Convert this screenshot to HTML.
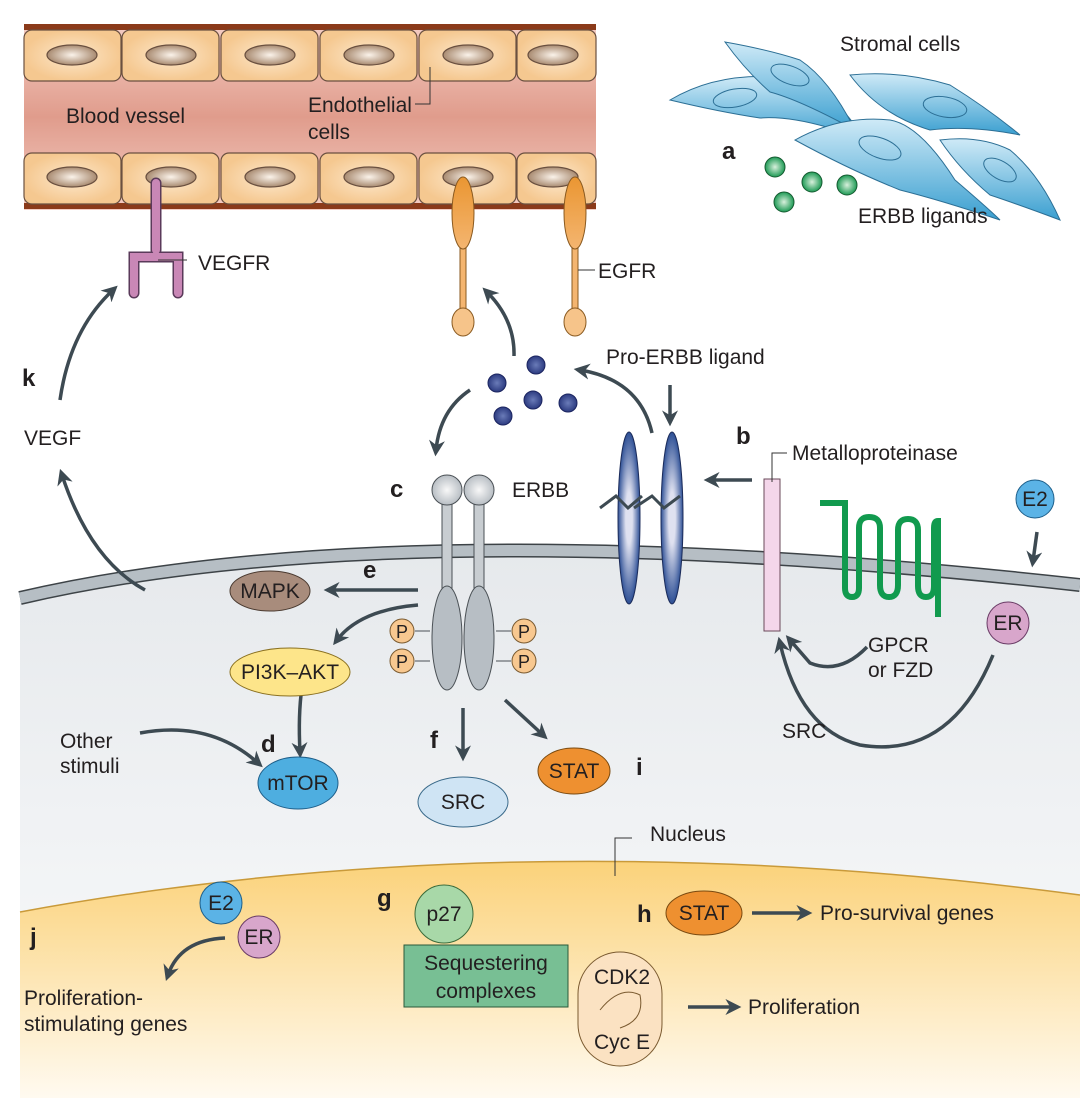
<!DOCTYPE html>
<html><head><meta charset="utf-8"><style>
body{margin:0;background:#fff}
svg text{font-family:"Liberation Sans",sans-serif;fill:#231f20}
.b{font-weight:bold;font-size:24px}
.t{font-size:21px}
</style></head><body>
<svg width="1080" height="1098" viewBox="0 0 1080 1098" xmlns="http://www.w3.org/2000/svg">
<defs>
<linearGradient id="bv" x1="0" y1="0" x2="0" y2="1"><stop offset="0" stop-color="#f4cdc4"/><stop offset="0.5" stop-color="#e09c8c"/><stop offset="1" stop-color="#f4cdc4"/></linearGradient>
<radialGradient id="ec"><stop offset="0" stop-color="#fde8cc"/><stop offset="1" stop-color="#f5c890"/></radialGradient>
<radialGradient id="nu"><stop offset="0" stop-color="#fbf3ea"/><stop offset="1" stop-color="#a88a70"/></radialGradient>
<linearGradient id="cyto" x1="0" y1="0" x2="0" y2="1"><stop offset="0" stop-color="#e6e9ec"/><stop offset="1" stop-color="#fafbfc"/></linearGradient>
<linearGradient id="nuc" x1="0" y1="0" x2="0" y2="1"><stop offset="0" stop-color="#fbd27a"/><stop offset="1" stop-color="#fffaf0"/></linearGradient>
<radialGradient id="sb"><stop offset="0" stop-color="#6a7bb8"/><stop offset="1" stop-color="#2c3b80"/></radialGradient>
<radialGradient id="gb"><stop offset="0" stop-color="#d8f0dc"/><stop offset="1" stop-color="#1e9a55"/></radialGradient>
<linearGradient id="str" x1="0" y1="0" x2="0" y2="1"><stop offset="0" stop-color="#cfeaf7"/><stop offset="1" stop-color="#3a9fd0"/></linearGradient>
<linearGradient id="og" x1="0" y1="0" x2="0" y2="1"><stop offset="0" stop-color="#ea9632"/><stop offset="1" stop-color="#f4b570"/></linearGradient>
<radialGradient id="ball"><stop offset="0" stop-color="#f8f8f8"/><stop offset="1" stop-color="#b8bec4"/></radialGradient>
<radialGradient id="gm"><stop offset="0.3" stop-color="#dfe1f0"/><stop offset="1" stop-color="#2d4f95"/></radialGradient>
<marker id="a" viewBox="0 0 10 10" refX="6" refY="5" markerWidth="16" markerHeight="16" orient="auto" markerUnits="userSpaceOnUse"><path d="M0,0 L10,5 L0,10 L3,5 z" fill="#3d4a52"/></marker>
</defs>

<path d="M20,598 Q400,510 1080,585 L1080,1098 L20,1098 Z" fill="url(#cyto)"/>
<path d="M20,598 Q400,510 1080,585" fill="none" stroke="#3d4347" stroke-width="14"/>
<path d="M20,598 Q400,510 1080,585" fill="none" stroke="#b6bec4" stroke-width="11"/>
<path d="M20,912 Q520,820 1080,895 L1080,1098 L20,1098 Z" fill="url(#nuc)"/>
<path d="M20,912 Q520,820 1080,895" fill="none" stroke="#c99a3a" stroke-width="1.5"/>

<rect x="24" y="24" width="572" height="186" fill="url(#bv)"/>
<rect x="24" y="24" width="572" height="6" fill="#8b3a1a"/>
<rect x="24" y="203" width="572" height="6" fill="#8b3a1a"/>
<g stroke="#6a5040" stroke-width="1.2">
<g fill="url(#ec)">
<rect x="24" y="30" width="97" height="51" rx="8"/><rect x="122" y="30" width="97" height="51" rx="8"/><rect x="221" y="30" width="97" height="51" rx="8"/><rect x="320" y="30" width="97" height="51" rx="8"/><rect x="419" y="30" width="97" height="51" rx="8"/><rect x="517" y="30" width="79" height="51" rx="8"/>
<rect x="24" y="153" width="97" height="51" rx="8"/><rect x="122" y="153" width="97" height="51" rx="8"/><rect x="221" y="153" width="97" height="51" rx="8"/><rect x="320" y="153" width="97" height="51" rx="8"/><rect x="419" y="153" width="97" height="51" rx="8"/><rect x="517" y="153" width="79" height="51" rx="8"/>
</g>
<g fill="url(#nu)">
<ellipse cx="72" cy="55" rx="25" ry="10"/><ellipse cx="171" cy="55" rx="25" ry="10"/><ellipse cx="270" cy="55" rx="25" ry="10"/><ellipse cx="369" cy="55" rx="25" ry="10"/><ellipse cx="468" cy="55" rx="25" ry="10"/><ellipse cx="553" cy="55" rx="25" ry="10"/>
<ellipse cx="72" cy="177" rx="25" ry="10"/><ellipse cx="171" cy="177" rx="25" ry="10"/><ellipse cx="270" cy="177" rx="25" ry="10"/><ellipse cx="369" cy="177" rx="25" ry="10"/><ellipse cx="468" cy="177" rx="25" ry="10"/><ellipse cx="553" cy="177" rx="25" ry="10"/>
</g></g>
<text x="66" y="123" class="t">Blood vessel</text>
<text x="308" y="112" class="t">Endothelial</text>
<text x="308" y="139" class="t">cells</text>
<path d="M415,104 H430 V67" fill="none" stroke="#333" stroke-width="1"/>

<path d="M156,183 V250 M134,293 V257 H178 V293" fill="none" stroke="#5a3a5a" stroke-width="11" stroke-linecap="round"/>
<path d="M156,183 V250 M134,293 V257 H178 V293" fill="none" stroke="#c987b6" stroke-width="8" stroke-linecap="round"/>
<path d="M158,260 H187" stroke="#333" stroke-width="1"/>
<text x="198" y="270" class="t">VEGFR</text>

<g stroke="#8a5a20" stroke-width="1">
<rect x="460" y="230" width="6" height="82" fill="#f4b570"/>
<ellipse cx="463" cy="213" rx="11" ry="36" fill="url(#og)"/>
<ellipse cx="463" cy="322" rx="11" ry="14" fill="#f6c48a"/>
<rect x="572" y="230" width="6" height="82" fill="#f4b570"/>
<ellipse cx="575" cy="213" rx="11" ry="36" fill="url(#og)"/>
<ellipse cx="575" cy="322" rx="11" ry="14" fill="#f6c48a"/>
</g>
<path d="M578,270 H595" stroke="#333" stroke-width="1"/>
<text x="598" y="278" class="t">EGFR</text>

<g stroke="#2c6f95" stroke-width="1" fill="url(#str)">
<path d="M670,100 Q720,70 790,78 Q830,85 865,140 Q800,115 760,118 Q720,112 670,100Z"/>
<path d="M725,42 Q770,50 800,60 Q830,80 855,130 Q800,100 770,92 Q745,70 725,42Z"/>
<path d="M850,75 Q900,70 950,85 Q990,110 1020,135 Q970,125 930,130 Q880,115 850,75Z"/>
<path d="M795,140 Q840,115 890,120 Q920,125 955,180 Q990,210 1000,220 Q940,200 900,190 Q850,170 795,140Z"/>
<path d="M940,140 Q980,135 1010,150 Q1040,175 1060,220 Q1020,205 990,195 Q960,170 940,140Z"/>
</g>
<g fill="none" stroke="#2c6f95" stroke-width="1">
<ellipse cx="735" cy="98" rx="22" ry="9" transform="rotate(-10 735 98)"/>
<ellipse cx="790" cy="75" rx="20" ry="9" transform="rotate(20 790 75)"/>
<ellipse cx="945" cy="107" rx="22" ry="10" transform="rotate(10 945 107)"/>
<ellipse cx="880" cy="148" rx="22" ry="10" transform="rotate(20 880 148)"/>
<ellipse cx="1000" cy="170" rx="18" ry="9" transform="rotate(30 1000 170)"/>
</g>
<text x="840" y="51" class="t">Stromal cells</text>
<text x="722" y="159" class="b">a</text>
<g stroke="#155a30" stroke-width="1" fill="url(#gb)">
<circle cx="775" cy="167" r="10"/><circle cx="812" cy="182" r="10"/><circle cx="847" cy="185" r="10"/><circle cx="784" cy="202" r="10"/>
</g>
<text x="858" y="223" class="t">ERBB ligands</text>

<g stroke="#1c2560" stroke-width="1" fill="url(#sb)">
<circle cx="536" cy="365" r="9"/><circle cx="497" cy="383" r="9"/><circle cx="533" cy="400" r="9"/><circle cx="568" cy="403" r="9"/><circle cx="503" cy="416" r="9"/>
</g>
<text x="606" y="364" class="t">Pro-ERBB ligand</text>

<g fill="none" stroke="#3d4a52" stroke-width="3.5" marker-end="url(#a)">
<path d="M514,356 Q515,320 487,292"/>
<path d="M652,433 Q640,380 580,370"/>
<path d="M670,385 V420"/>
<path d="M470,390 Q440,410 436,450"/>
<path d="M752,480 H710"/>
<path d="M60,400 Q70,330 113,290"/>
<path d="M145,590 Q90,560 62,475"/>
<path d="M418,590 H330"/>
<path d="M418,605 Q360,610 337,640"/>
<path d="M302,687 Q298,715 300,752"/>
<path d="M140,733 Q210,720 258,763"/>
<path d="M463,708 V755"/>
<path d="M505,700 L543,735"/>
<path d="M1037,532 L1033,561"/>
<path d="M993,655 Q950,760 860,745 Q800,730 780,643"/>
<path d="M867,647 Q840,675 810,663 L790,640"/>
<path d="M225,938 Q180,940 168,975"/>
<path d="M752,913 H806"/>
<path d="M688,1007 H735"/>
</g>

<g stroke="#1c2c5a" stroke-width="1" fill="url(#gm)">
<ellipse cx="629" cy="518" rx="11" ry="86"/>
<ellipse cx="672" cy="518" rx="11" ry="86"/>
</g>
<path d="M600,508 L616,496 L628,508 L642,496 M634,508 L652,496 L664,508 L680,496" fill="none" stroke="#3d4a52" stroke-width="3"/>

<rect x="764" y="479" width="16" height="152" fill="#f4d6ea" stroke="#6a4a5a" stroke-width="1"/>
<path d="M772,482 V453 H787" fill="none" stroke="#333" stroke-width="1"/>
<text x="792" y="460" class="t">Metalloproteinase</text>
<text x="736" y="444" class="b">b</text>
<path d="M820,503 H845 V588 Q845,597 852,597 Q859,597 859,588 V528 Q859,517 869,517 Q880,517 880,528 V585 Q880,597 889,597 Q898,597 898,585 V530 Q898,519 908,519 Q918,519 918,530 V586 Q918,597 926,597 Q934,597 934,586 V528 Q934,521 938,521 L938,617" fill="none" stroke="#119a4e" stroke-width="6"/>
<text x="868" y="652" class="t">GPCR</text>
<text x="868" y="677" class="t">or FZD</text>
<text x="782" y="738" class="t">SRC</text>

<circle cx="1035" cy="499" r="19" fill="#5bb3e6" stroke="#1e5f8a"/>
<text x="1035" y="506" class="t" text-anchor="middle" font-size="18">E2</text>
<circle cx="1008" cy="623" r="21" fill="#d8a6cb" stroke="#6a3c66"/>
<text x="1008" y="630" class="t" text-anchor="middle" font-size="18">ER</text>

<g stroke="#4a5055" stroke-width="1">
<rect x="442" y="495" width="10" height="100" fill="#c8cdd1"/>
<rect x="474" y="495" width="10" height="100" fill="#c8cdd1"/>
<circle cx="447" cy="490" r="15" fill="url(#ball)"/>
<circle cx="479" cy="490" r="15" fill="url(#ball)"/>
<ellipse cx="447" cy="638" rx="15" ry="52" fill="#b7bec4"/>
<ellipse cx="479" cy="638" rx="15" ry="52" fill="#b7bec4"/>
<path d="M430,631 H415 M430,661 H415 M496,631 H511 M496,661 H511"/>
<g fill="#f8c890" stroke="#7a5a30"><circle cx="402" cy="631" r="12"/><circle cx="402" cy="661" r="12"/><circle cx="524" cy="631" r="12"/><circle cx="524" cy="661" r="12"/></g>
</g>
<g font-size="18"><text x="402" y="638" text-anchor="middle">P</text><text x="402" y="668" text-anchor="middle">P</text><text x="524" y="638" text-anchor="middle">P</text><text x="524" y="668" text-anchor="middle">P</text></g>
<text x="390" y="497" class="b">c</text>
<text x="512" y="497" class="t">ERBB</text>

<ellipse cx="270" cy="591" rx="40" ry="20" fill="#a88c7c" stroke="#4a3a30"/>
<text x="270" y="598" class="t" text-anchor="middle" font-size="19">MAPK</text>
<text x="363" y="578" class="b">e</text>
<ellipse cx="290" cy="672" rx="60" ry="24" fill="#fde58a" stroke="#8a7020"/>
<text x="290" y="679" class="t" text-anchor="middle" font-size="19">PI3K–AKT</text>
<ellipse cx="298" cy="783" rx="40" ry="26" fill="#4eaee0" stroke="#1e5f8a"/>
<text x="298" y="790" class="t" text-anchor="middle" font-size="19">mTOR</text>
<text x="261" y="752" class="b">d</text>
<text x="60" y="748" class="t">Other</text>
<text x="60" y="773" class="t">stimuli</text>
<ellipse cx="463" cy="802" rx="45" ry="25" fill="#cfe4f4" stroke="#3a6a8a"/>
<text x="463" y="809" class="t" text-anchor="middle" font-size="19">SRC</text>
<text x="430" y="748" class="b">f</text>
<ellipse cx="574" cy="771" rx="36" ry="23" fill="#ee9030" stroke="#7a4a10"/>
<text x="574" y="778" class="t" text-anchor="middle" font-size="19">STAT</text>
<text x="636" y="775" class="b">i</text>
<text x="24" y="445" class="t">VEGF</text>
<text x="22" y="386" class="b">k</text>

<path d="M615,876 V838 H632" fill="none" stroke="#333" stroke-width="1"/>
<text x="650" y="841" class="t">Nucleus</text>

<circle cx="221" cy="903" r="21" fill="#5bb3e6" stroke="#1e5f8a"/>
<text x="221" y="910" class="t" text-anchor="middle" font-size="18">E2</text>
<circle cx="259" cy="937" r="21" fill="#d8a6cb" stroke="#6a3c66"/>
<text x="259" y="944" class="t" text-anchor="middle" font-size="18">ER</text>
<text x="30" y="945" class="b">j</text>
<text x="24" y="1005" class="t">Proliferation-</text>
<text x="24" y="1031" class="t">stimulating genes</text>
<text x="377" y="906" class="b">g</text>
<circle cx="444" cy="914" r="29" fill="#a8d8a8" stroke="#3a6a3a"/>
<text x="444" y="921" class="t" text-anchor="middle" font-size="19">p27</text>
<rect x="404" y="945" width="164" height="62" fill="#78bf94" stroke="#2a5a3a"/>
<text x="486" y="970" class="t" text-anchor="middle">Sequestering</text>
<text x="486" y="998" class="t" text-anchor="middle">complexes</text>
<text x="637" y="922" class="b">h</text>
<ellipse cx="704" cy="913" rx="38" ry="22" fill="#ee9030" stroke="#7a4a10"/>
<text x="704" y="920" class="t" text-anchor="middle" font-size="19">STAT</text>
<text x="820" y="920" class="t">Pro-survival genes</text>
<rect x="578" y="952" width="84" height="114" rx="42" fill="#fbe2c2" stroke="#7a5a30"/>
<path d="M600,1010 Q620,985 640,995 Q645,1020 620,1028" fill="none" stroke="#7a5a30"/>
<text x="622" y="984" class="t" text-anchor="middle" font-size="19">CDK2</text>
<text x="622" y="1049" class="t" text-anchor="middle" font-size="19">Cyc E</text>
<text x="748" y="1014" class="t">Proliferation</text>
</svg>
</body></html>
